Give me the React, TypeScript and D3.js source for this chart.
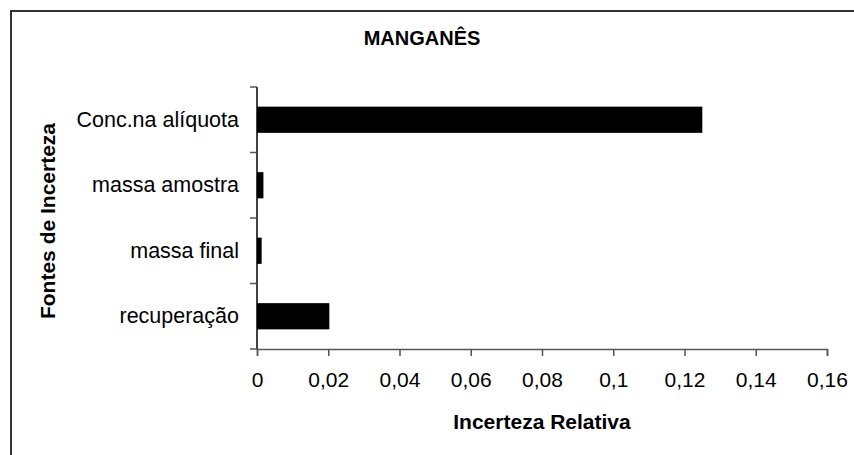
import { useEffect, useRef } from "react";
import { select, scaleLinear, scaleBand, axisBottom, axisLeft } from "d3";

////
// data
const categories = ["Conc.na alíquota", "massa amostra", "massa final", "recuperação"];
const values = [0.125, 0.0018, 0.0013, 0.0203];
const tickValues = [0, 0.02, 0.04, 0.06, 0.08, 0.1, 0.12, 0.14, 0.16];
const tickLabels = ["0", "0,02", "0,04", "0,06", "0,08", "0,1", "0,12", "0,14", "0,16"];

const OPTIONS = {
  width: 854,
  height: 455,
  left: 257,
  right: 827,
  top: 87,
  bottom: 349,
  font: "'Liberation Sans', Arial, sans-serif",
};

const App = () => {
  const root = useRef<SVGSVGElement | null>(null);

  useEffect(() => {
    const { width, height, left, right, top, bottom, font } = OPTIONS;
    const svg = select(root.current);
    svg.selectAll("*").remove();
    svg.attr("width", width).attr("height", height).style("font-family", font);

    const x = scaleLinear().domain([0, 0.16]).range([left, right]);
    const y = scaleBand<string>()
      .domain(categories)
      .range([top, bottom])
      .paddingInner(0.6)
      .paddingOuter(0.3);

    // chart area frame (runs off the page right and bottom)
    svg
      .append("rect")
      .attr("x", 11)
      .attr("y", 11)
      .attr("width", 900)
      .attr("height", 500)
      .attr("fill", "#fff")
      .attr("stroke", "#333")
      .attr("stroke-width", 2);

    // bars
    svg
      .append("g")
      .selectAll("rect")
      .data(categories)
      .enter()
      .append("rect")
      .attr("x", x(0))
      .attr("y", (d) => y(d) as number)
      .attr("width", (d, i) => x(values[i]) - x(0))
      .attr("height", y.bandwidth())
      .attr("fill", "#000");

    // x axis
    const xAxis = svg
      .append("g")
      .attr("transform", `translate(0, ${bottom})`)
      .call(
        axisBottom(x)
          .tickValues(tickValues)
          .tickSize(7)
          .tickPadding(16)
          .tickFormat((d, i) => tickLabels[i])
      );
    xAxis.select(".domain").attr("stroke", "#555").attr("stroke-width", 1.5);
    xAxis.selectAll(".tick line").attr("stroke", "#555").attr("stroke-width", 1.5);
    xAxis
      .selectAll(".tick text")
      .attr("fill", "#000")
      .style("font-size", "21px")
      .style("font-family", font);

    // y axis: ticks sit between categories
    const yAxis = svg.append("g").attr("transform", `translate(${left}, 0)`);
    yAxis
      .append("line")
      .attr("x1", 0)
      .attr("x2", 0)
      .attr("y1", top)
      .attr("y2", bottom)
      .attr("stroke", "#000")
      .attr("stroke-width", 1.5);
    const step = (bottom - top) / categories.length;
    yAxis
      .selectAll("line.tk")
      .data(categories.concat([""]))
      .enter()
      .append("line")
      .attr("class", "tk")
      .attr("x1", -7)
      .attr("x2", 0)
      .attr("y1", (d, i) => top + i * step)
      .attr("y2", (d, i) => top + i * step)
      .attr("stroke", "#555")
      .attr("stroke-width", 1.5);
    yAxis
      .call(axisLeft(y).tickSize(0).tickPadding(18))
      .select(".domain")
      .remove();
    yAxis
      .selectAll(".tick text")
      .attr("fill", "#000")
      .style("font-size", "21.5px")
      .style("font-family", font);

    // titles
    svg
      .append("text")
      .attr("x", 422)
      .attr("y", 45)
      .attr("text-anchor", "middle")
      .style("font-size", "20px")
      .style("font-weight", "bold")
      .text("MANGANÊS");
    svg
      .append("text")
      .attr("x", (left + right) / 2)
      .attr("y", 429)
      .attr("text-anchor", "middle")
      .style("font-size", "21px")
      .style("font-weight", "bold")
      .text("Incerteza Relativa");
    svg
      .append("text")
      .attr("transform", `translate(55, ${(top + bottom) / 2 + 3}) rotate(-90)`)
      .attr("text-anchor", "middle")
      .style("font-size", "21px")
      .style("font-weight", "bold")
      .text("Fontes de Incerteza");
  }, []);

  return <svg ref={root} style={{ position: "absolute", left: 0, top: 0 }} />;
};

export default App;
